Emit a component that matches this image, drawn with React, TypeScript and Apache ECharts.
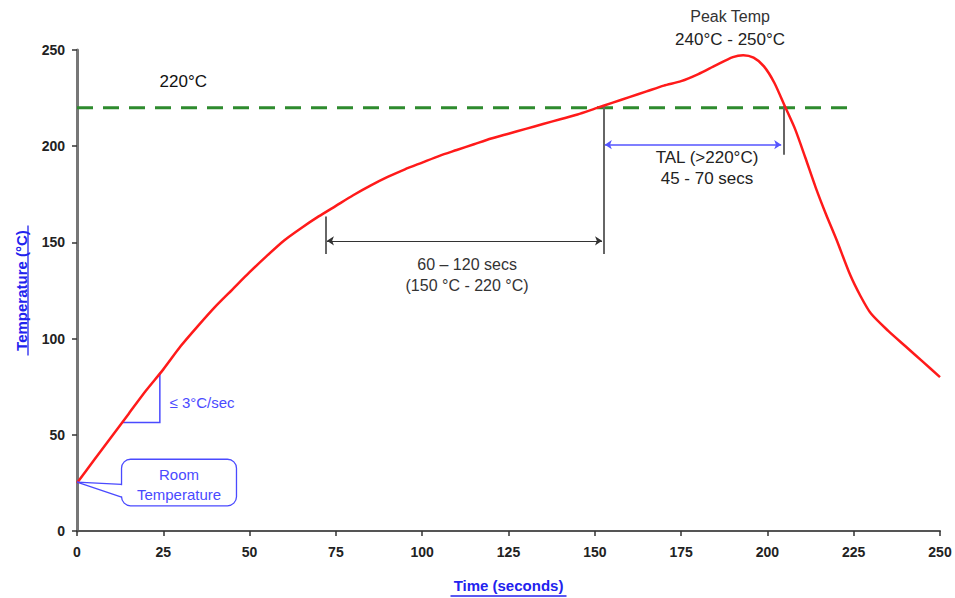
import React, { useEffect, useRef } from "react";
import * as echarts from "echarts";

// Reflow profile (time in seconds, temperature in °C)
const TIME_S = [
  0, 5, 10, 15, 20, 25, 30, 35, 40, 45, 50, 55, 60, 65, 70, 75, 80, 85, 90, 95,
  100, 105, 110, 115, 120, 125, 130, 135, 140, 145, 150, 155, 160, 165, 170, 175,
  180, 185, 190, 193, 196, 199, 202, 205, 208, 211, 214, 217, 220, 224, 227, 230,
  235, 240, 245, 250,
];
const TEMP_C = [
  25, 37, 49, 61, 73, 84, 96, 106.5, 116.5, 125.5, 134.5, 143, 151, 157.5, 163.5, 169, 174.5, 179.5, 184, 188,
  191.5, 195, 198, 201, 204, 206.5, 209, 211.5, 214, 216.5, 219.5, 222.5, 225.5, 228.5, 231.5, 233.8,
  237.5, 242, 246.3, 247.3, 246, 241.5, 233, 221, 209, 194, 178.5, 164.5, 151.5, 133, 122, 113,
  104, 96, 88, 80,
];

// Axes
const X_MIN = 0;
const X_MAX = 250;
const X_STEP = 25;
const Y_MIN = 0;
const Y_MAX = 250;
const Y_STEP = 50;
const X_NAME = "Time (seconds)";
const Y_NAME = "Temperature (°C)";

// Annotation values (data units)
const LIQUIDUS_C = 220;
const LIQUIDUS_END_S = 223.5;
const SOAK_START_S = 72;
const SOAK_END_S = 152.5;
const SOAK_ARROW_C = 150.8;
const SOAK_GUIDE_TOP_LEFT_C = 163.5;
const SOAK_GUIDE_BOTTOM_C = 144;
const TAL_END_S = 204.6;
const TAL_ARROW_C = 200.8;
const TAL_GUIDE_BOTTOM_C = 195.5;
const SLOPE_TRIANGLE = [
  [13.3, 56.4],
  [24, 56.4],
  [24, 82.3],
];
const ROOM_TEMP_POINT = [0, 25.4];

// Annotation texts
const LABEL_LIQUIDUS = "220°C";
const LABEL_SOAK = ["60 – 120 secs", "(150 °C - 220 °C)"];
const LABEL_TAL = ["TAL (>220°C)", "45 - 70 secs"];
const LABEL_PEAK = ["Peak Temp", "240°C - 250°C"];
const LABEL_SLOPE = "≤ 3°C/sec";
const LABEL_ROOM = ["Room", "Temperature"];

const FONT = "'Liberation Sans', Arial, sans-serif";
const BLUE = "#4a4aff";

export default function App() {
  const ref = useRef<HTMLDivElement>(null);

  useEffect(() => {
    if (!ref.current) return;
    const chart = echarts.init(ref.current, null, { renderer: "svg" });

    const option: any = {
      animation: false,
      backgroundColor: "#ffffff",
      grid: { left: 77, right: 15, top: 50, bottom: 65 },
      xAxis: {
        type: "value",
        min: X_MIN,
        max: X_MAX,
        interval: X_STEP,
        name: X_NAME,
        nameLocation: "middle",
        nameGap: 47,
        nameTextStyle: { fontFamily: FONT, fontSize: 15, fontWeight: "bold", color: "#2222ee" },
        splitLine: { show: false },
        axisLine: { show: true, onZero: false, lineStyle: { color: "#555", width: 2 } },
        axisTick: { show: true, length: 5, lineStyle: { color: "#333", width: 1.5 } },
        axisLabel: { fontFamily: FONT, fontSize: 14, fontWeight: "bold", color: "#222", margin: 14 },
      },
      yAxis: {
        type: "value",
        min: Y_MIN,
        max: Y_MAX,
        interval: Y_STEP,
        name: Y_NAME,
        nameLocation: "middle",
        nameRotate: 90,
        nameGap: 48,
        nameTextStyle: { fontFamily: FONT, fontSize: 15, fontWeight: "bold", color: "#2222ee" },
        splitLine: { show: false },
        axisLine: { show: true, onZero: false, lineStyle: { color: "#777", width: 3 } },
        axisTick: { show: true, length: 5, lineStyle: { color: "#333", width: 1.5 } },
        axisLabel: { fontFamily: FONT, fontSize: 14, fontWeight: "bold", color: "#222", margin: 12 },
      },
      series: [
        {
          name: "liquidus",
          type: "line",
          data: [
            [X_MIN, LIQUIDUS_C],
            [LIQUIDUS_END_S, LIQUIDUS_C],
          ],
          showSymbol: false,
          silent: true,
          lineStyle: { color: "#2e8b2e", width: 3, type: [16, 10] },
          z: 3,
        },
        {
          name: "guides",
          type: "lines",
          coordinateSystem: "cartesian2d",
          silent: true,
          lineStyle: { color: "#666", width: 2, opacity: 1 },
          data: [
            { coords: [[SOAK_START_S, SOAK_GUIDE_TOP_LEFT_C], [SOAK_START_S, SOAK_GUIDE_BOTTOM_C]] },
            { coords: [[SOAK_END_S, LIQUIDUS_C + 1], [SOAK_END_S, SOAK_GUIDE_BOTTOM_C]] },
            { coords: [[TAL_END_S, LIQUIDUS_C + 1], [TAL_END_S, TAL_GUIDE_BOTTOM_C]] },
          ],
          z: 4,
        },
        {
          name: "soak arrow",
          type: "lines",
          coordinateSystem: "cartesian2d",
          silent: true,
          symbol: ["arrow", "arrow"],
          symbolSize: 7,
          lineStyle: { color: "#333", width: 1, opacity: 1 },
          data: [{ coords: [[SOAK_START_S + 0.4, SOAK_ARROW_C], [SOAK_END_S - 0.4, SOAK_ARROW_C]] }],
          z: 4,
        },
        {
          name: "tal arrow",
          type: "lines",
          coordinateSystem: "cartesian2d",
          silent: true,
          symbol: ["arrow", "arrow"],
          symbolSize: 7,
          lineStyle: { color: "#5555ff", width: 1.5, opacity: 1 },
          data: [{ coords: [[SOAK_END_S + 0.4, TAL_ARROW_C], [TAL_END_S - 0.6, TAL_ARROW_C]] }],
          z: 4,
        },
        {
          name: "slope",
          type: "lines",
          coordinateSystem: "cartesian2d",
          polyline: true,
          silent: true,
          lineStyle: { color: BLUE, width: 1.5, opacity: 1 },
          data: [{ coords: SLOPE_TRIANGLE }],
          z: 4,
        },
        {
          name: "profile",
          type: "line",
          data: TIME_S.map((t, i) => [t, TEMP_C[i]]),
          smooth: 0.25,
          showSymbol: false,
          silent: true,
          lineStyle: { color: "#ff1a1a", width: 2.5 },
          z: 5,
        },
      ],
    };

    chart.setOption(option);

    const p = (t: number, T: number) => chart.convertToPixel({ gridIndex: 0 }, [t, T]) as number[];
    const txt = (text: string, at: number[], size: number, color: string, align = "center") => ({
      type: "text",
      x: at[0],
      y: at[1],
      silent: true,
      z: 10,
      style: {
        text,
        fill: color,
        fontFamily: FONT,
        fontSize: size,
        align,
        verticalAlign: "middle",
      },
    });

    const boxTL = p(12.9, 37.3);
    const boxBR = p(46.2, 13.1);
    const apex = p(ROOM_TEMP_POINT[0], ROOM_TEMP_POINT[1]);
    const b1 = [boxTL[0], p(0, 24.2)[1]];
    const b2 = [boxTL[0], p(0, 17.6)[1]];
    const roomCx = (boxTL[0] + boxBR[0]) / 2;

    const xMid = p((X_MIN + X_MAX) / 2, 0);
    const yMid = p(0, (Y_MIN + Y_MAX) / 2);

    const graphic: any[] = [
      txt(LABEL_LIQUIDUS, p(30.8, 233.5), 17, "#111"),
      txt(LABEL_SOAK[0], p(113, 138.7), 16, "#333"),
      txt(LABEL_SOAK[1], p(113, 127.8), 16, "#333"),
      txt(LABEL_TAL[0], p(182.5, 194.3), 17, "#222"),
      txt(LABEL_TAL[1], p(182.5, 183), 17, "#222"),
      txt(LABEL_PEAK[0], p(189.2, 267.2), 16, "#333"),
      txt(LABEL_PEAK[1], p(189.2, 255.4), 17, "#222"),
      txt(LABEL_SLOPE, p(26.8, 66.8), 15, BLUE, "left"),
      {
        type: "rect",
        silent: true,
        z: 9,
        shape: { x: boxTL[0], y: boxTL[1], width: boxBR[0] - boxTL[0], height: boxBR[1] - boxTL[1], r: 9 },
        style: { fill: "#ffffff", stroke: BLUE, lineWidth: 1.3 },
      },
      {
        type: "polygon",
        silent: true,
        z: 9,
        shape: {
          points: [
            [b1[0] - 2, b1[1] + 0.8],
            [b1[0] + 2, b1[1] + 0.8],
            [b2[0] + 2, b2[1] - 0.8],
            [b2[0] - 2, b2[1] - 0.8],
          ],
        },
        style: { fill: "#ffffff" },
      },
      {
        type: "polyline",
        silent: true,
        z: 9,
        shape: { points: [b1, apex, b2] },
        style: { stroke: BLUE, lineWidth: 1.3, fill: null },
      },
      txt(LABEL_ROOM[0], [roomCx, boxTL[1] + 15], 15, BLUE),
      txt(LABEL_ROOM[1], [roomCx, boxTL[1] + 35], 15, BLUE),
      // underline of axis names
      {
        type: "line",
        silent: true,
        shape: { x1: xMid[0] - 58, y1: 596, x2: xMid[0] + 58, y2: 596 },
        style: { stroke: "#2222ee", lineWidth: 1.3 },
      },
      {
        type: "line",
        silent: true,
        shape: { x1: 28, y1: yMid[1] - 65, x2: 28, y2: yMid[1] + 65 },
        style: { stroke: "#2222ee", lineWidth: 1.3 },
      },
    ];

    chart.setOption({ graphic });

    return () => chart.dispose();
  }, []);

  return (
    <div
      ref={ref}
      style={{ position: "fixed", left: 0, top: 0, width: 955, height: 598, background: "#fff" }}
    />
  );
}
